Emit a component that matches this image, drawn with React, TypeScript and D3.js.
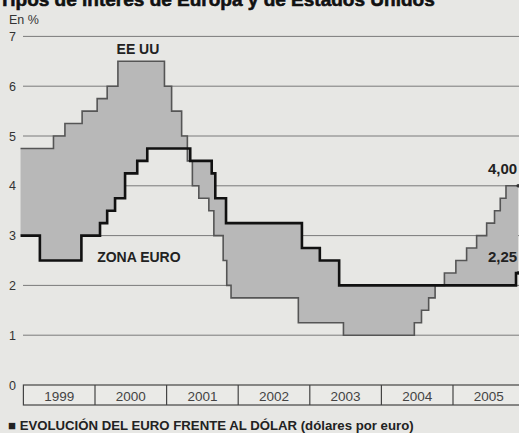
import React from "react";
import * as d3 from "d3";

// ---- data ----
const fedDates = [1998.96, 1999.42, 1999.58, 1999.82, 2000.03, 2000.17, 2000.32, 2000.97, 2001.07, 2001.21, 2001.29, 2001.36, 2001.45, 2001.59, 2001.66, 2001.79, 2001.84, 2001.9, 2002.84, 2003.47, 2004.46, 2004.56, 2004.66, 2004.75, 2004.88, 2005.04, 2005.19, 2005.33, 2005.47, 2005.58, 2005.66, 2005.74, 2005.91];
const fedRates = [4.75, 5.0, 5.25, 5.5, 5.75, 6.0, 6.5, 6.0, 5.5, 5.0, 4.5, 4.0, 3.75, 3.5, 3.0, 2.5, 2.0, 1.75, 1.25, 1.0, 1.25, 1.5, 1.75, 2.0, 2.25, 2.5, 2.75, 3.0, 3.25, 3.5, 3.75, 4.0, 4.0];
const ecbDates = [1998.96, 1999.23, 1999.81, 2000.07, 2000.17, 2000.28, 2000.42, 2000.59, 2000.73, 2001.33, 2001.63, 2001.68, 2001.83, 2002.89, 2003.14, 2003.41, 2005.88, 2005.91];
const ecbRates = [3.0, 2.5, 3.0, 3.25, 3.5, 3.75, 4.25, 4.5, 4.75, 4.5, 4.25, 3.75, 3.25, 2.75, 2.5, 2.0, 2.25, 2.25];
const years = [1999, 2000, 2001, 2002, 2003, 2004, 2005];
const yTicks = [0, 1, 2, 3, 4, 5, 6, 7];
const title = "Tipos de interés de Europa y de Estados Unidos";
const unitLabel = "En %";
const fedLabel = "EE UU";
const ecbLabel = "ZONA EURO";
const fedLast = "4,00";
const ecbLast = "2,25";
const footer = "■ EVOLUCIÓN DEL EURO FRENTE AL DÓLAR (dólares por euro)";

const W = 519;
const H = 433;
const FONT = "'Liberation Sans', Arial, Helvetica, sans-serif";

type Pt = { t: number; v: number };
const fed: Pt[] = fedDates.map((t, i) => ({ t, v: fedRates[i] }));
const ecb: Pt[] = ecbDates.map((t, i) => ({ t, v: ecbRates[i] }));

function valueAt(series: Pt[], t: number): number {
  let v = series[0].v;
  for (const p of series) {
    if (p.t <= t + 1e-9) v = p.v;
    else break;
  }
  return v;
}

export default function App() {
  const x = d3.scaleLinear().domain([2000, 2005]).range([95, 453]);
  const y = d3.scaleLinear().domain([0, 7]).range([385, 36.4]);

  const allT = Array.from(new Set([...fedDates, ...ecbDates])).sort((a, b) => a - b);
  const between = allT.map((t) => ({ t, f: valueAt(fed, t), e: valueAt(ecb, t) }));

  const area = d3
    .area<{ t: number; f: number; e: number }>()
    .x((d) => x(d.t))
    .y0((d) => y(d.e))
    .y1((d) => y(d.f))
    .curve(d3.curveStepAfter);

  const line = d3
    .line<Pt>()
    .x((d) => x(d.t))
    .y((d) => y(d.v))
    .curve(d3.curveStepAfter);

  const boxTop = y(0);
  const boxBottom = boxTop + 20;
  const fedEnd = fed[fed.length - 1];
  const ecbEnd = ecb[ecb.length - 1];

  return (
    <svg
      width={W}
      height={H}
      style={{ position: "absolute", left: 0, top: 0, display: "block" }}
      fontFamily={FONT}
    >
      <rect x={0} y={0} width={W} height={H} fill="#e7e7e4" />
      {/* title, cut off at the top of the picture as in the reference */}
      <text x={-1} y={6} fontSize={19} fontWeight={900} fill="#111" stroke="#111" strokeWidth={0.6}>
        {title}
      </text>
      <text x={9} y={24} fontSize={12.5} fill="#333">
        {unitLabel}
      </text>

      {/* grid */}
      {yTicks.filter((v) => v > 0).map((v) => (
        <line key={v} x1={23} x2={W} y1={y(v)} y2={y(v)} stroke="#7a7a7a" strokeWidth={1} />
      ))}
      {yTicks.map((v) => (
        <text key={"t" + v} x={9} y={y(v) + 4.5} fontSize={12.5} fill="#333">
          {v}
        </text>
      ))}

      {/* area between the two rates */}
      <path d={area(between) || ""} fill="#b8b8b8" stroke="none" />
      <path d={line(fed) || ""} fill="none" stroke="#555" strokeWidth={1.6} />
      <path d={line(ecb) || ""} fill="none" stroke="#111" strokeWidth={2.6} />
      <circle cx={x(fedEnd.t)} cy={y(fedEnd.v)} r={1.8} fill="#333" />
      <circle cx={x(ecbEnd.t)} cy={y(ecbEnd.v)} r={1.8} fill="#111" />

      {/* labels */}
      <text x={x(2000.6)} y={y(6.5) - 7} fontSize={14} fontWeight={700} fill="#222" textAnchor="middle">
        {fedLabel}
      </text>
      <text x={x(2000.03)} y={y(2.5) + 1.5} fontSize={14} fontWeight={700} fill="#222">
        {ecbLabel}
      </text>
      <text x={488} y={y(4) - 12} fontSize={15} fontWeight={700} fill="#222">
        {fedLast}
      </text>
      <text x={488} y={y(2.25) - 11} fontSize={15} fontWeight={700} fill="#222">
        {ecbLast}
      </text>

      {/* year box */}
      <rect x={x(1999)} y={boxTop} width={W + 10 - x(1999)} height={boxBottom - boxTop} fill="#eaeae7" stroke="#444" strokeWidth={1.2} />
      {years.slice(1).map((yr) => (
        <line key={yr} x1={x(yr)} x2={x(yr)} y1={boxTop} y2={boxBottom} stroke="#444" strokeWidth={1.2} />
      ))}
      {years.map((yr) => (
        <text key={"y" + yr} x={x(yr + 0.5)} y={boxBottom - 4} fontSize={13.5} fill="#444" textAnchor="middle">
          {yr}
        </text>
      ))}

      <text x={8} y={430} fontSize={13.2} fontWeight={700} fill="#222">
        {footer}
      </text>
    </svg>
  );
}
